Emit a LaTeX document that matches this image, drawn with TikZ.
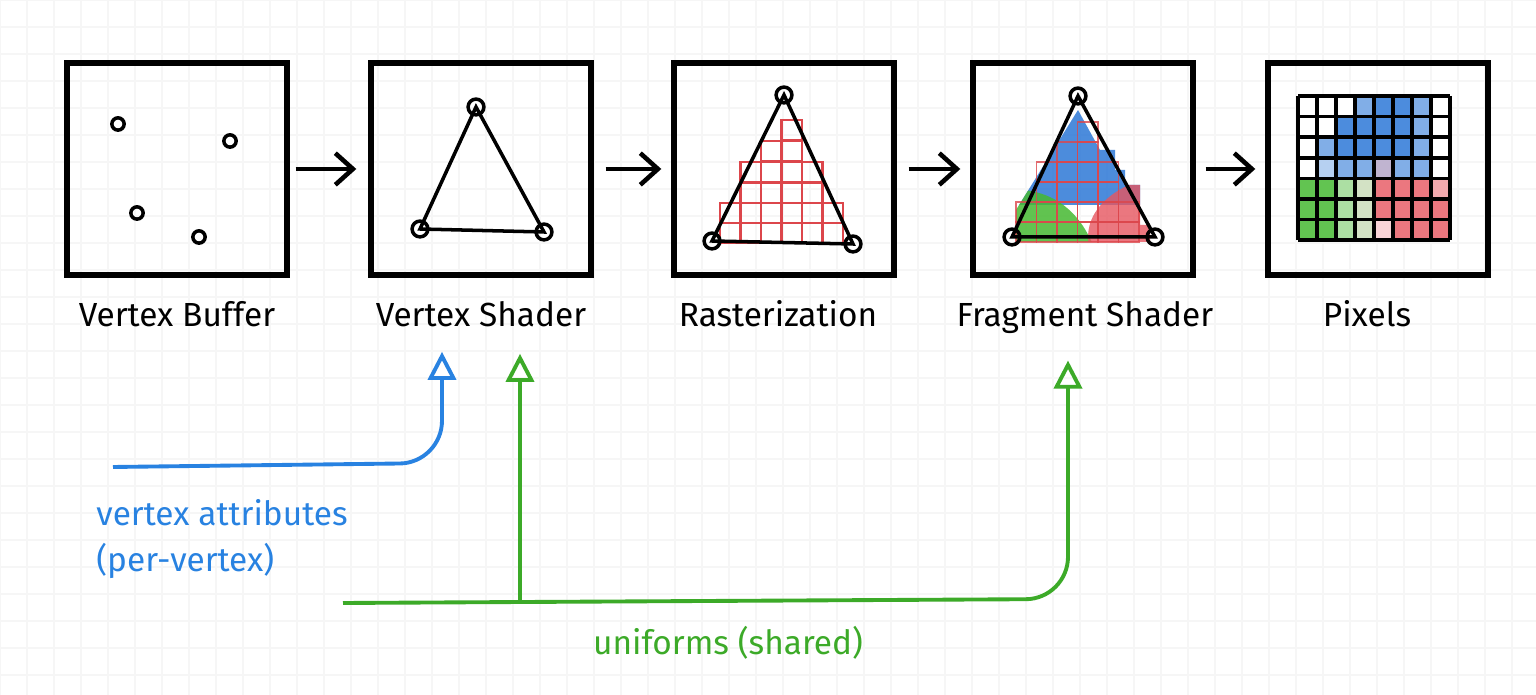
\documentclass[tikz,border=0pt]{standalone}
\usepackage{fontspec}
\setmainfont{Fira Sans}
\usetikzlibrary{calc}
\usetikzlibrary{arrows.meta}
\usetikzlibrary{positioning}

\definecolor{penblue}{RGB}{40,130,225}
\definecolor{pengreen}{RGB}{60,170,40}
\definecolor{inkred}{RGB}{220,70,75}
\definecolor{washblue}{RGB}{45,120,215}
\definecolor{washgreen}{RGB}{70,185,50}
\definecolor{washred}{RGB}{230,85,95}
\colorlet{cw}{white}
\colorlet{cb}{washblue!85}
\colorlet{clb}{washblue!60}
\colorlet{cvb}{washblue!35}
\colorlet{cpu}{washred!45!washblue!50}
\colorlet{cg}{washgreen!85}
\colorlet{clg}{washgreen!45}
\colorlet{cbe}{washred!25!washgreen!30}
\colorlet{cr}{washred!80}
\colorlet{clr}{washred!50}
\colorlet{cvr}{washred!25}

\tikzset{
  stage/.style={draw=black, line width=1.5pt, minimum width=2.2cm, minimum height=2.12cm, inner sep=0pt},
  stagelabel/.style={font=\fontsize{9.5}{12}\selectfont, anchor=base},
  flow/.style={black, line width=1.3pt, -{Straight Barb[length=5pt,width=9pt]}},
  feed/.style={line width=1.1pt, -{Triangle[open,length=8pt,width=8pt]}, rounded corners=12pt},
  vtx/.style={draw=black, line width=1pt, circle, inner sep=0pt, minimum size=3.5pt},
}

\begin{document}
\begin{tikzpicture}[x=0.01cm, y=-0.01cm]
\useasboundingbox (0,0) rectangle (1536,695);
\fill[white] (0,0) rectangle (1536,695);
\foreach \gx in {0,27,...,1536} \draw[gray!7, line width=0.3pt] (\gx,0) -- (\gx,695);
\foreach \gy in {0,27,...,695} \draw[gray!7, line width=0.3pt] (0,\gy) -- (1536,\gy);

% the five stages
\node[stage] (vb)  at (177,169)  {};
\node[stage] (vs)  at (481,169)  {};
\node[stage] (ras) at (784,169)  {};
\node[stage] (fs)  at (1083,169) {};
\node[stage] (pix) at (1378,169) {};

\node[stagelabel] (vbl)  at (177,327)  {Vertex Buffer};
\node[stagelabel] (vsl)  at (481,327)  {Vertex Shader};
\node[stagelabel] (rasl) at (778,327)  {Rasterization};
\node[stagelabel] (fsl)  at (1085,327) {Fragment Shader};
\node[stagelabel] (pixl) at (1367,327) {Pixels};

\draw[flow] ($(vb.east)+(6,0)$) -- ($(vs.west)+(-12,0)$);
\draw[flow] ($(vs.east)+(12,0)$) -- ($(ras.west)+(-10,0)$);
\draw[flow] ($(ras.east)+(12,0)$) -- ($(fs.west)+(-10,0)$);
\draw[flow] ($(fs.east)+(10,0)$) -- ($(pix.west)+(-10,0)$);

% vertex buffer points
\foreach \p in {(118,124), (230,141), (137,213), (199,237)}
  \node[vtx] at \p {};

% vertex shader triangle
\draw[line width=1pt] (476,107) -- (420,229) -- (544,232) -- cycle;
\foreach \p in {(476,107), (420,229), (544,232)}
  \node[vtx, minimum size=4.5pt] at \p {};

% rasterization: red fragment cells
\begin{scope}[inkred, line width=0.6pt]
\foreach \yt/\ca/\cz in {223/0/5, 203/0/5, 183/1/4, 162/1/4, 141/2/3, 120/3/3}
  \foreach \xx in {\ca,...,\cz}
    \draw (720+\xx*20.5,\yt) rectangle ++(20.5,20);
\end{scope}
\draw[line width=1pt] (784,95) -- (712,241) -- (853,244) -- cycle;
\foreach \p in {(784,95), (712,241), (853,244)}
  \node[vtx, minimum size=4.5pt] at \p {};

% fragment shader: coloured cells
\begin{scope}
\clip (1078,110) -- (1100,150) -- (1115,150) -- (1115,170) -- (1125,170) -- (1125,185) -- (1140,185) -- (1140,225) -- (1150,225) -- (1150,242) -- (1016,242) -- (1016,210) -- cycle;
\fill[washblue, opacity=0.85] (1000,90) rectangle (1160,205);
\fill[washgreen, opacity=0.85] (1000,190) .. controls (1050,185) and (1080,210) .. (1095,250) -- (1000,250) -- cycle;
\fill[washred, opacity=0.8] (1090,250) .. controls (1080,215) and (1110,185) .. (1160,175) -- (1160,250) -- cycle;
\end{scope}
\begin{scope}[inkred, line width=0.5pt, opacity=0.8]
\foreach \yt/\ca/\cz in {222/0/5, 202/0/5, 182/1/4, 162/1/4, 142/2/3, 122/3/3}
  \foreach \xx in {\ca,...,\cz}
    \draw (1016+\xx*20.5,\yt) rectangle ++(20.5,20);
\end{scope}
\draw[line width=1pt] (1078,96) -- (1012,237) -- (1155,237) -- cycle;
\foreach \p in {(1078,96), (1012,237), (1155,237)}
  \node[vtx, minimum size=4.5pt] at \p {};

% pixels: 8 x 7 grid
\foreach \r/\cols in {0/{cw,cw,cw,clb,cb,cb,clb,cw}, 1/{cw,cw,cb,cb,cb,cb,clb,cw}, 2/{cw,clb,cb,cb,cb,cb,clb,cw},
                      3/{cw,cvb,clb,clb,cpu,clb,clb,cw}, 4/{cg,cg,clg,cbe,cr,cr,cr,clr},
                      5/{cg,cg,clg,cbe,cr,cr,cr,cr}, 6/{cg,cg,clg,cbe,cvr,cr,cr,cr}}
  \foreach \c [count=\i from 0] in \cols
    \fill[\c] (1298+\i*19,96+\r*20.6) rectangle ++(19,20.6);
\foreach \i in {0,...,8} \draw[line width=1pt] (1298+\i*19,96) -- (1298+\i*19,240.2);
\foreach \i in {0,...,7} \draw[line width=1pt] (1298,96+\i*20.6) -- (1450,96+\i*20.6);

% inputs
\coordinate (attrstart) at (113,467);
\coordinate (unistart) at (343,603);
\draw[feed, penblue] (attrstart) -- (442,463) -- ($(vsl.south)+(-39,12)$);
\draw[feed, pengreen] (unistart) -- (1068,599) -- ($(fsl.south)+(-17,14)$);
\draw[feed, pengreen] (520,603) -- ($(vsl.south)+(39,14)$);

\node[penblue, font=\fontsize{9.5}{13}\selectfont, align=left, anchor=north west] (attr) at (84,487) {vertex attributes\\(per-vertex)};
\node[pengreen, font=\fontsize{9.5}{12}\selectfont] (uni) at (728,643) {uniforms (shared)};
\end{tikzpicture}
\end{document}
